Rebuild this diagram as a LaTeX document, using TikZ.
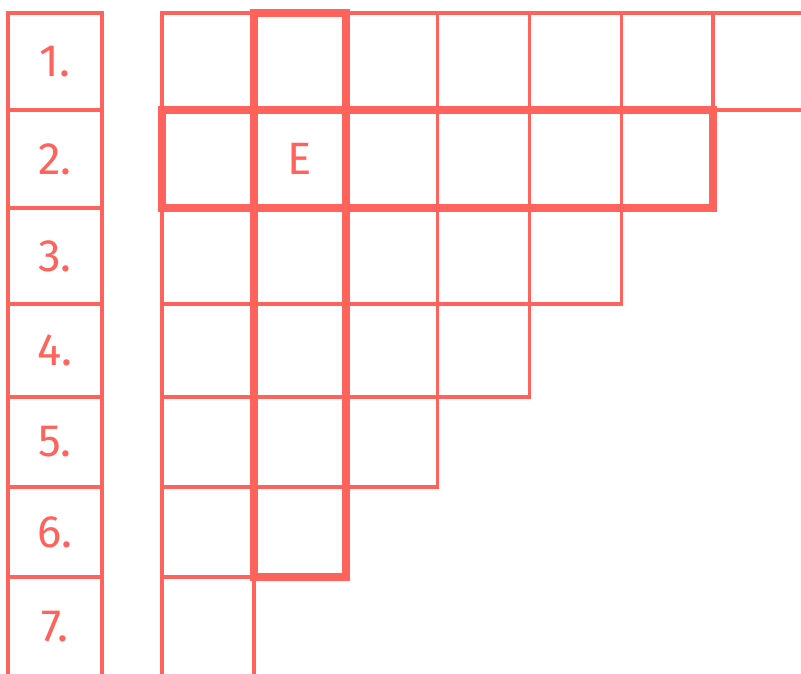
\documentclass[tikz,border=0pt]{standalone}
\usepackage{fontspec}
\setmainfont{Fira Sans}
\usetikzlibrary{positioning}
\definecolor{coral}{RGB}{255,99,92}
\tikzset{
  numbox/.style={draw=coral,line width=2.3pt,minimum width=70.5pt,minimum height=#1,
    inner sep=0pt,outer sep=0pt,anchor=north west,text=coral,font=\fontsize{34}{36}\selectfont},
  cell/.style={draw=coral,line width=2.3pt,minimum width=69pt,minimum height=#1,
    inner sep=0pt,outer sep=0pt,anchor=north west},
  letter/.style={text=coral,font=\fontsize{34}{36}\selectfont},
  bold frame/.style={draw=coral,line width=6pt},
}

\begin{document}
\begin{tikzpicture}[x=0.75pt,y=-0.75pt]
  \useasboundingbox (0,0) rectangle (801,674);
  \clip (0,0) rectangle (801,674);
  \fill[white] (0,0) rectangle (801,674);
  % numbered column and staircase grid
  \foreach \r/\y/\h in {1/13/97,2/110/98,3/208/96,4/304/93,5/397/90,6/487/90,7/577/100}
  {
    \node[numbox=\h*0.75pt] (n\r) at (8,\y) {\r.};
    \pgfmathtruncatemacro\last{8-\r}
    \foreach \c in {1,...,\last}
      \node[cell=\h*0.75pt] (c\r-\c) at ({162+(\c-1)*91.83},\y) {};
  }
  \node[letter] (e) at (c2-2.center) {E};
  % highlighted word slots
  \draw[bold frame] (c1-2.north west) rectangle (c6-2.south east);
  \draw[bold frame] (c2-1.north west) rectangle (c2-6.south east);
\end{tikzpicture}
\end{document}
